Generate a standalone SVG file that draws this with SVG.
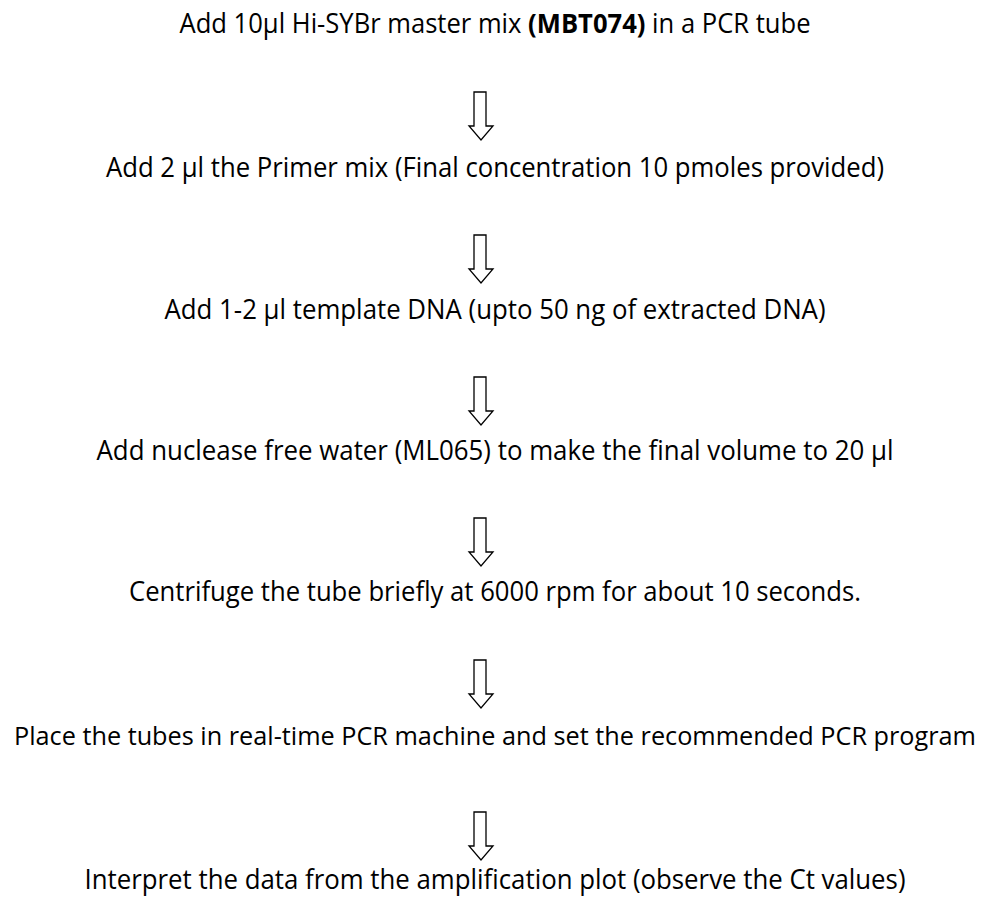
<svg xmlns="http://www.w3.org/2000/svg" width="990" height="898" viewBox="0 0 990 898">
<style>
.t{font-family:"Open Sans","Noto Sans","Liberation Sans",sans-serif;font-size:26.4px;fill:#000;text-anchor:middle}
.b{font-weight:bold}
.a{fill:#fff;stroke:#000;stroke-width:1.3;stroke-linejoin:miter}
</style>
<defs>
<path id="arr" d="M474 0H486V34H493L481 48L469 34H474Z"/>
</defs>
<rect width="990" height="898" fill="#fff"/>
<g id="step1"><text class="t" x="495" y="33" textLength="631" lengthAdjust="spacingAndGlyphs">Add 10µl Hi-SYBr master mix <tspan class="b">(MBT074)</tspan> in a PCR tube</text></g>
<g id="step2"><text class="t" x="495" y="177" textLength="778" lengthAdjust="spacingAndGlyphs">Add 2 µl the Primer mix (Final concentration 10 pmoles provided)</text></g>
<g id="step3"><text class="t" x="495" y="319" textLength="661" lengthAdjust="spacingAndGlyphs">Add 1-2 µl template DNA (upto 50 ng of extracted DNA)</text></g>
<g id="step4"><text class="t" x="495" y="460" textLength="797" lengthAdjust="spacingAndGlyphs">Add nuclease free water (ML065) to make the final volume to 20 µl</text></g>
<g id="step5"><text class="t" x="495" y="601" textLength="732" lengthAdjust="spacingAndGlyphs">Centrifuge the tube briefly at 6000 rpm for about 10 seconds.</text></g>
<g id="step6"><text class="t" x="495" y="745" style="font-size:25px" textLength="962" lengthAdjust="spacingAndGlyphs">Place the tubes in real-time PCR machine and set the recommended PCR program</text></g>
<g id="step7"><text class="t" x="495" y="889" textLength="821" lengthAdjust="spacingAndGlyphs">Interpret the data from the amplification plot (observe the Ct values)</text></g>
<g id="connectors">
<use href="#arr" class="a" y="92"/>
<use href="#arr" class="a" y="235"/>
<use href="#arr" class="a" y="377"/>
<use href="#arr" class="a" y="518"/>
<use href="#arr" class="a" y="660"/>
<use href="#arr" class="a" y="812"/>
</g>
</svg>
